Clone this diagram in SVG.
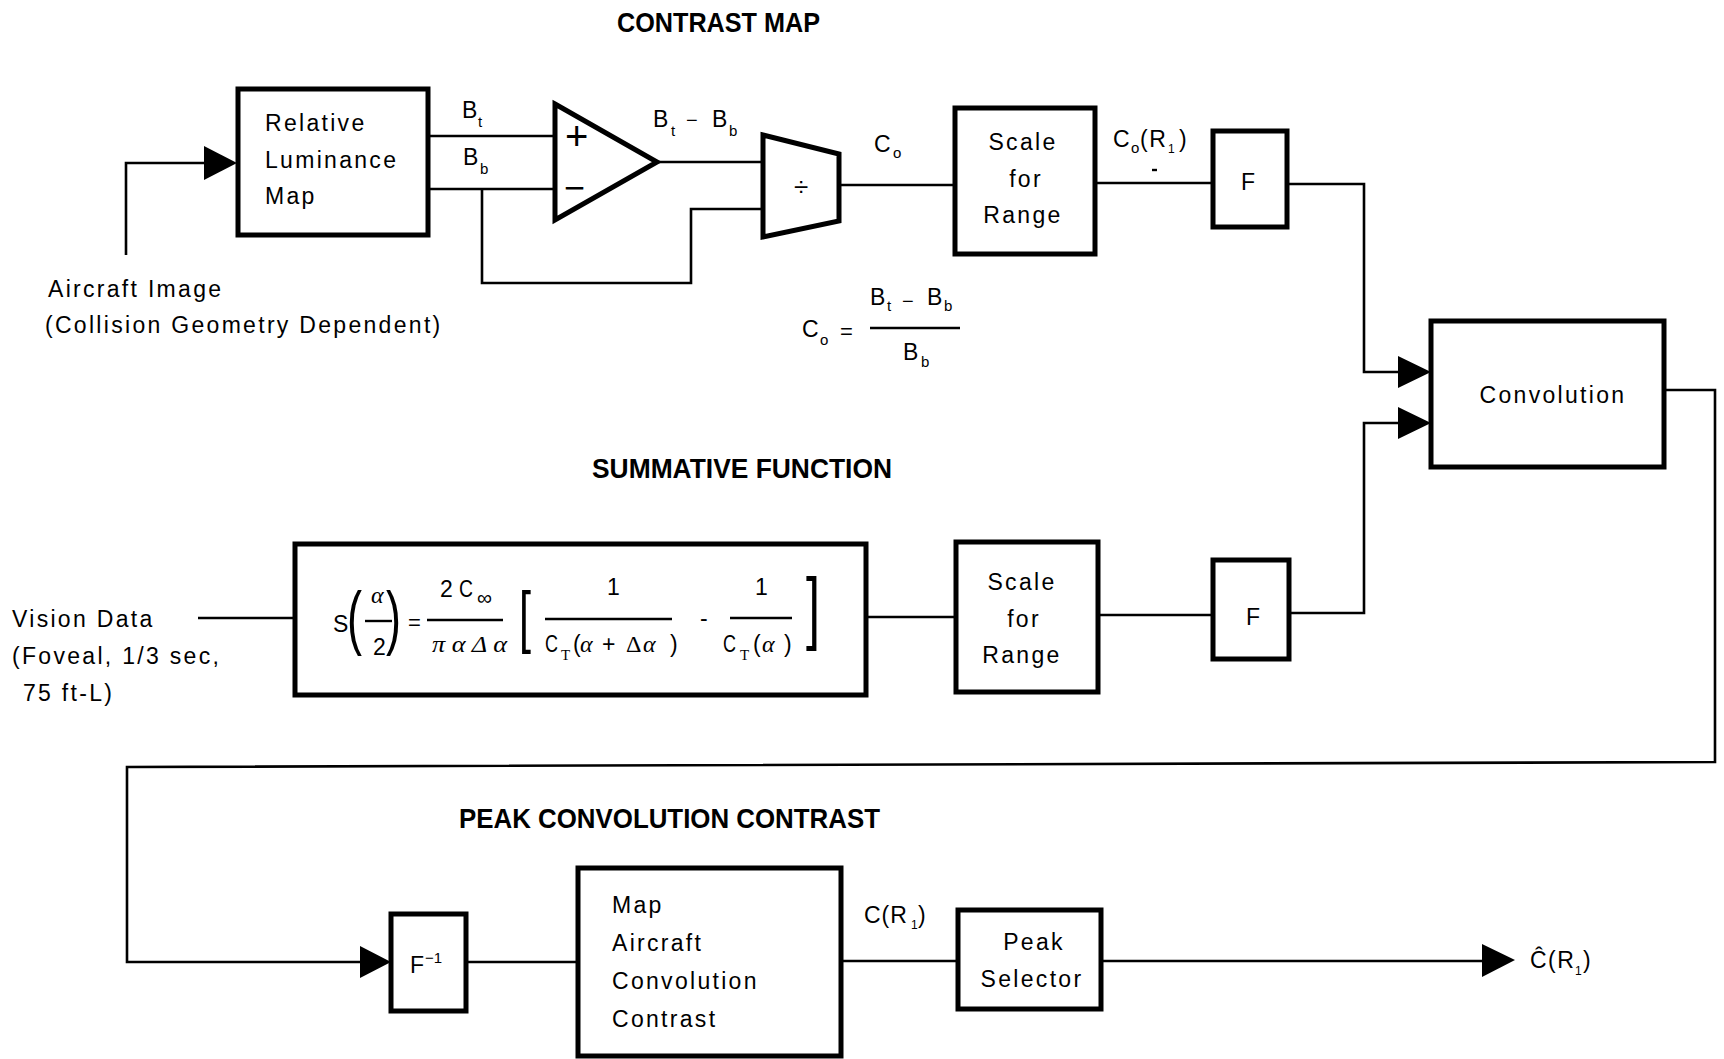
<svg xmlns="http://www.w3.org/2000/svg" width="1724" height="1059" viewBox="0 0 1724 1059">
<style>
.box{fill:#fff;stroke:#000;stroke-width:5;stroke-linejoin:miter}
.ln{fill:none;stroke:#000;stroke-width:2.6}
.bar{stroke:#000;stroke-width:2.4}
.ah{fill:#000;stroke:none}
text{font-family:"Liberation Sans",Arial,Helvetica,sans-serif;fill:#000}
.t{font-size:23px;letter-spacing:2.3px}
.c{text-anchor:middle}
.ttl{font-size:28px;font-weight:bold;letter-spacing:0}
.s{font-size:15px;letter-spacing:0}
.f{font-size:23px;letter-spacing:0}
.g{font-family:"Liberation Serif","Times New Roman",serif;font-style:italic;font-size:24px;letter-spacing:0}
.gs{font-family:"Liberation Serif","Times New Roman",serif;font-size:15px;letter-spacing:0}
</style>
<rect width="1724" height="1059" fill="#fff"/>

<!-- titles -->
<text class="ttl" x="617" y="32" textLength="203" lengthAdjust="spacingAndGlyphs">CONTRAST MAP</text>
<text class="ttl" x="592" y="478" textLength="300" lengthAdjust="spacingAndGlyphs">SUMMATIVE FUNCTION</text>
<text class="ttl" x="459" y="828" textLength="421" lengthAdjust="spacingAndGlyphs">PEAK CONVOLUTION CONTRAST</text>

<!-- connectors -->
<g id="connectors">
  <polyline class="ln" points="126,255 126,163 206,163"/>
  <polygon class="ah" points="204,146 237,163 204,180"/>
  <line class="ln" x1="428" y1="136" x2="555" y2="136"/>
  <line class="ln" x1="428" y1="189" x2="555" y2="189"/>
  <polyline class="ln" points="482,189 482,283 691,283 691,209 763,209"/>
  <line class="ln" x1="657" y1="162" x2="763" y2="162"/>
  <line class="ln" x1="839" y1="185" x2="955" y2="185"/>
  <line class="ln" x1="1095" y1="183" x2="1213" y2="183"/>
  <polyline class="ln" points="1287,184 1364,184 1364,372 1400,372"/>
  <polygon class="ah" points="1398,356 1431,372 1398,388"/>
  <polyline class="ln" points="1289,613 1364,613 1364,423 1400,423"/>
  <polygon class="ah" points="1398,407 1431,423 1398,439"/>
  <polyline class="ln" points="1664,390 1715,390 1715,762 127,767 127,962 362,962"/>
  <polygon class="ah" points="360,946 391,962 360,978"/>
  <line class="ln" x1="466" y1="962" x2="578" y2="962"/>
  <line class="ln" x1="841" y1="961" x2="958" y2="961"/>
  <line class="ln" x1="1101" y1="961" x2="1484" y2="961"/>
  <polygon class="ah" points="1482,944 1515,960 1482,977"/>
  <line class="ln" x1="198" y1="618" x2="295" y2="618"/>
  <line class="ln" x1="866" y1="617" x2="956" y2="617"/>
  <line class="ln" x1="1098" y1="615" x2="1213" y2="615"/>
</g>

<!-- connector labels -->
<g id="labels">
  <text class="t" x="48" y="297">Aircraft Image</text>
  <text class="t" x="45" y="333">(Collision Geometry Dependent)</text>
  <text class="f" x="462" y="118">B</text><text class="s" x="478" y="127">t</text>
  <text class="f" x="463" y="165">B</text><text class="s" x="480" y="174">b</text>
  <text class="f" x="653" y="127">B</text><text class="s" x="671" y="136">t</text>
  <text class="f" x="686" y="127" style="font-size:20px">−</text>
  <text class="f" x="712" y="127">B</text><text class="s" x="729" y="136">b</text>
  <text class="f" x="874" y="152">C</text><text class="s" x="893" y="158">o</text>
  <text class="f" x="1113" y="147">C</text><text class="s" x="1131" y="153">o</text>
  <text class="f" x="1140" y="147" style="letter-spacing:1.5px">(R</text><text class="s" x="1168" y="153" style="font-size:12px">1</text>
  <text class="f" x="1179" y="147">)</text>
  <line class="bar" x1="1152" y1="170" x2="1157" y2="170"/>
  <!-- Co formula -->
  <text class="f" x="802" y="337">C</text><text class="s" x="820" y="345">o</text>
  <text class="f" x="840" y="339" style="font-size:22px">=</text>
  <line class="bar" x1="870" y1="328" x2="960" y2="328"/>
  <text class="f" x="870" y="305">B</text><text class="s" x="887" y="311">t</text>
  <text class="f" x="902" y="308" style="font-size:20px">−</text>
  <text class="f" x="927" y="305">B</text><text class="s" x="944" y="311">b</text>
  <text class="f" x="903" y="360">B</text><text class="s" x="921" y="367">b</text>
  <!-- vision data -->
  <text class="t" x="12" y="627">Vision Data</text>
  <text class="t" x="12" y="664">(Foveal, 1/3 sec,</text>
  <text class="t" x="23" y="701">75 ft-L)</text>
  <!-- bottom labels -->
  <text class="f" x="864" y="923" style="letter-spacing:1px">C(R</text><text class="s" x="911" y="929" style="font-size:12px">1</text>
  <text class="f" x="918" y="923">)</text>
  <text class="f" x="1530" y="968" style="letter-spacing:1.5px">Ĉ(R</text><text class="s" x="1575" y="975" style="font-size:12px">1</text>
  <text class="f" x="1583" y="968">)</text>
</g>

<!-- nodes -->
<g id="luminance-map">
  <rect class="box" x="238" y="89" width="190" height="146"/>
  <text class="t" x="265" y="131">Relative</text>
  <text class="t" x="265" y="168">Luminance</text>
  <text class="t" x="265" y="204">Map</text>
</g>
<g id="subtractor">
  <polygon class="box" points="555,104 657,162 555,220"/>
  <text class="f" x="565" y="150" style="font-size:40px">+</text>
  <text class="f" x="564" y="200" style="font-size:36px">−</text>
</g>
<g id="divider">
  <polygon class="box" points="763,135 839,154 839,221 763,237"/>
  <text class="f" x="794" y="196" style="font-size:26px">÷</text>
</g>
<g id="scale-range-1">
  <rect class="box" x="955" y="108" width="140" height="146"/>
  <text class="t c" x="1023" y="150">Scale</text>
  <text class="t c" x="1026" y="187">for</text>
  <text class="t c" x="1023" y="223">Range</text>
</g>
<g id="f-1">
  <rect class="box" x="1213" y="131" width="74" height="96"/>
  <text class="f c" x="1248" y="190">F</text>
</g>
<g id="convolution">
  <rect class="box" x="1431" y="321" width="233" height="146"/>
  <text class="t c" x="1553" y="403">Convolution</text>
</g>
<g id="summative-formula">
  <rect class="box" x="295" y="544" width="571" height="151"/>
  <text class="f" x="333" y="632">S</text>
  <text class="f" x="347" y="641" style="font-size:71px" textLength="15" lengthAdjust="spacingAndGlyphs">(</text>
  <text class="g" x="371" y="603">α</text>
  <line class="bar" x1="365" y1="621" x2="392" y2="621"/>
  <text class="f" x="373" y="655">2</text>
  <text class="f" x="386" y="641" style="font-size:71px" textLength="15" lengthAdjust="spacingAndGlyphs">)</text>
  <text class="f" x="408" y="630" style="font-size:22px">=</text>
  <text class="f" x="440" y="597">2</text>
  <text class="f" x="459" y="597" textLength="14" lengthAdjust="spacingAndGlyphs">C</text>
  <text class="f" x="477" y="605" style="font-size:21px">∞</text>
  <line class="bar" x1="427" y1="620" x2="503" y2="620"/>
  <text class="g" x="432" y="652" textLength="75" lengthAdjust="spacingAndGlyphs">π α Δ α</text>
  <text class="f" x="519" y="640" style="font-size:68px" textLength="12" lengthAdjust="spacingAndGlyphs">[</text>
  <text class="f" x="607" y="595">1</text>
  <line class="bar" x1="545" y1="619" x2="672" y2="619"/>
  <text class="f" x="545" y="652" textLength="13" lengthAdjust="spacingAndGlyphs">C</text>
  <text class="gs" x="561" y="660">T</text>
  <text class="f" x="573" y="652">(</text>
  <text class="g" x="580" y="652">α</text>
  <text class="f" x="602" y="652">+</text>
  <text class="g" x="626" y="652" style="font-style:normal">Δ</text>
  <text class="g" x="643" y="652">α</text>
  <text class="f" x="670" y="652">)</text>
  <text class="f" x="700" y="626">-</text>
  <text class="f" x="755" y="595">1</text>
  <line class="bar" x1="730" y1="618" x2="792" y2="618"/>
  <text class="f" x="723" y="652" textLength="13" lengthAdjust="spacingAndGlyphs">C</text>
  <text class="gs" x="740" y="660">T</text>
  <text class="f" x="753" y="652">(</text>
  <text class="g" x="762" y="652">α</text>
  <text class="f" x="784" y="652">)</text>
  <text class="f" x="806" y="634" style="font-size:80px" textLength="14" lengthAdjust="spacingAndGlyphs">]</text>
</g>
<g id="scale-range-2">
  <rect class="box" x="956" y="542" width="142" height="150"/>
  <text class="t c" x="1022" y="590">Scale</text>
  <text class="t c" x="1024" y="627">for</text>
  <text class="t c" x="1022" y="663">Range</text>
</g>
<g id="f-2">
  <rect class="box" x="1213" y="560" width="76" height="99"/>
  <text class="f c" x="1253" y="625">F</text>
</g>
<g id="f-inverse">
  <rect class="box" x="391" y="914" width="75" height="97"/>
  <text class="f" x="410" y="973">F</text>
  <text class="s" x="425" y="963">−1</text>
</g>
<g id="map-aircraft-convolution-contrast">
  <rect class="box" x="578" y="868" width="263" height="188"/>
  <text class="t" x="612" y="913">Map</text>
  <text class="t" x="612" y="951">Aircraft</text>
  <text class="t" x="612" y="989">Convolution</text>
  <text class="t" x="612" y="1027">Contrast</text>
</g>
<g id="peak-selector">
  <rect class="box" x="958" y="910" width="143" height="99"/>
  <text class="t c" x="1034" y="950">Peak</text>
  <text class="t c" x="1032" y="987">Selector</text>
</g>
</svg>
